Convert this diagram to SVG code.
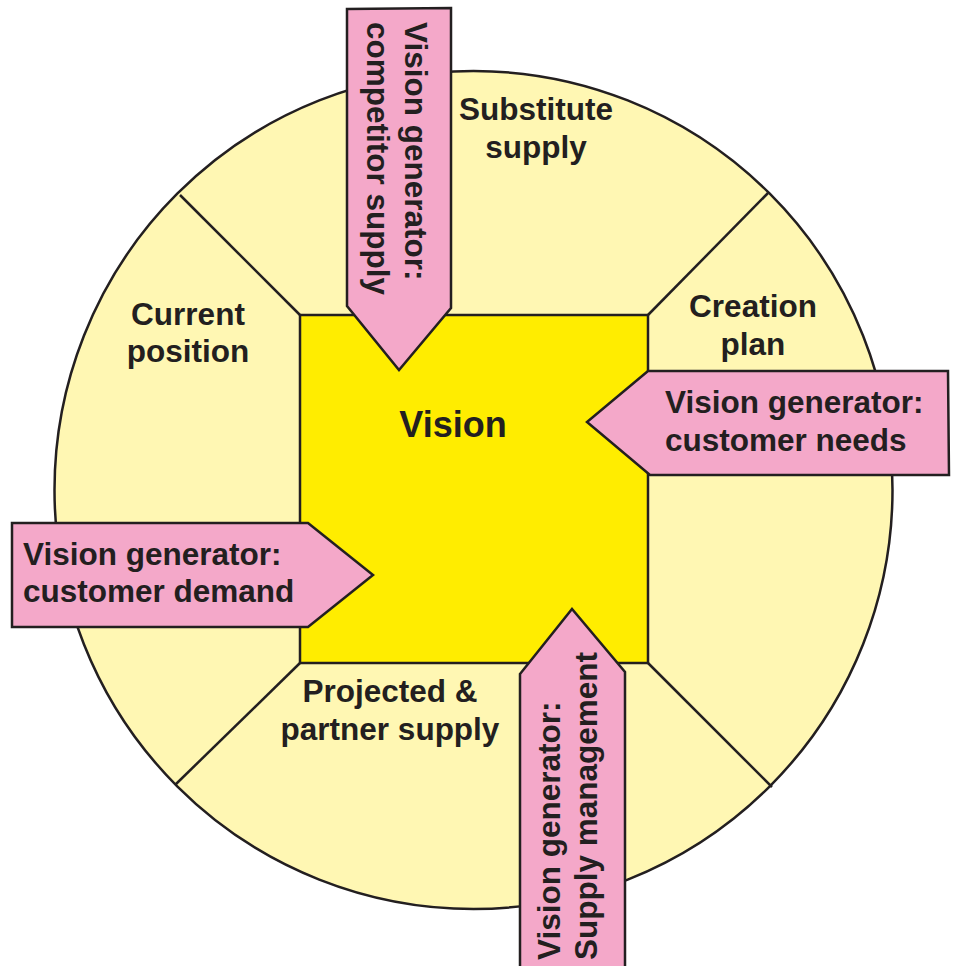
<svg xmlns="http://www.w3.org/2000/svg" width="955" height="966" viewBox="0 0 955 966">
<style>
.ln{stroke:#231F20;stroke-width:2.5;fill:none;stroke-linejoin:miter}
.arr{fill:#F4A8C9;stroke:#231F20;stroke-width:2.5;stroke-linejoin:miter}
.t{font-family:"Liberation Sans",Arial,sans-serif;font-weight:bold;font-size:31.5px;fill:#231F20}
.c{text-anchor:middle}
</style>
<rect width="955" height="966" fill="#FFFFFF"/>
<g id="wheel">
<circle cx="473.5" cy="490" r="419" fill="#FFF7B3" class="ln" style="fill:#FFF7B3"/>
</g>
<g id="connectors">
<line class="ln" x1="180" y1="195" x2="300" y2="315"/>
<line class="ln" x1="768" y1="193" x2="648" y2="315"/>
<line class="ln" x1="772" y1="787" x2="648" y2="663"/>
<line class="ln" x1="175" y1="785" x2="300" y2="663"/>
</g>
<g id="vision">
<rect x="300" y="315" width="348" height="348" fill="#FFED00" stroke="#231F20" stroke-width="2.5"/>
<text class="t c" x="453" y="437" style="font-size:36px">Vision</text>
</g>
<g id="substitute-supply">
<text class="t c" x="536" y="120">Substitute</text>
<text class="t c" x="536" y="158">supply</text>
</g>
<g id="creation-plan">
<text class="t c" x="753" y="317">Creation</text>
<text class="t c" x="753" y="355">plan</text>
</g>
<g id="current-position">
<text class="t c" x="188" y="325">Current</text>
<text class="t c" x="188" y="362">position</text>
</g>
<g id="projected-partner-supply">
<text class="t c" x="390" y="702">Projected &amp;</text>
<text class="t c" x="390" y="740">partner supply</text>
</g>
<g id="gen-competitor-supply">
<polygon class="arr" points="347,9 451,8 451,308 399,370 347,306"/>
<g transform="translate(405,22) rotate(90)">
<text class="t" x="0" y="0">Vision generator:</text>
<text class="t" x="0" y="38">competitor supply</text>
</g>
</g>
<g id="gen-customer-needs">
<polygon class="arr" points="648,371 948,371 949,475 650,475 587,422"/>
<text class="t" x="665" y="413">Vision generator:</text>
<text class="t" x="665" y="451">customer needs</text>
</g>
<g id="gen-customer-demand">
<polygon class="arr" points="12,523 308,523 373,575 308,627 12,627"/>
<text class="t" x="23" y="565">Vision generator:</text>
<text class="t" x="23" y="602">customer demand</text>
</g>
<g id="gen-supply-management">
<polygon class="arr" points="520,674 572,609 625,672 625,975 520,975"/>
<g transform="translate(560,960) rotate(-90)">
<text class="t" x="0" y="0">Vision generator:</text>
<text class="t" x="0" y="37">Supply management</text>
</g>
</g>
</svg>
